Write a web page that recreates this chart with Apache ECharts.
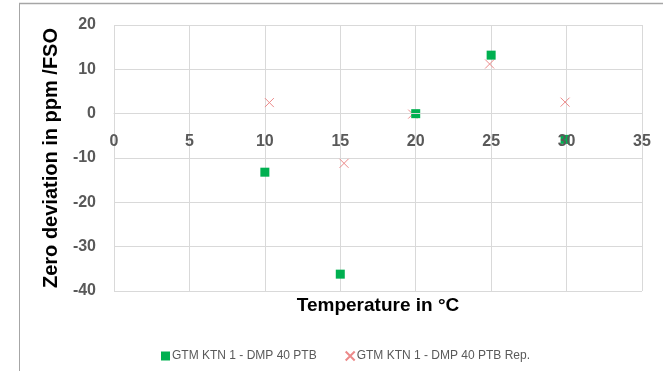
<!DOCTYPE html>
<html>
<head>
<meta charset="utf-8">
<script src="https://cdn.jsdelivr.net/npm/echarts@6/dist/echarts.min.js"></script>
<style>html,body{margin:0;padding:0;background:#fff}#c{width:663px;height:371px}</style>
</head>
<body>
<div id="c"></div>
<script>
// Data
var seriesNames = ['GTM KTN 1 - DMP 40 PTB', 'GTM KTN 1 - DMP 40 PTB Rep.'];
var tempA = [10, 15, 20, 25, 29.9];
var devA = [-13.2, -36.2, 0, 13.2, -5.8];
var tempB = [10.3, 15.25, 19.8, 24.9, 29.9];
var devB = [2.5, -11.2, -0.1, 11.2, 2.6];
var xTitle = 'Temperature in °C';
var yTitle = 'Zero deviation in ppm /FSO';

function pairs(xs, ys) { return xs.map(function (x, i) { return [x, ys[i]]; }); }

var xSym = 'path://M0,0L10,10M10,0L0,10';
var font = 'Liberation Sans, Arial, sans-serif';

// grid geometry
var gTop = 25, gBottom = 80, H = 371;
var plotH = H - gTop - gBottom;
var yMin = -40, yMax = 20;
var zeroOffset = -plotH * (0 - yMin) / (yMax - yMin); // move x axis up to y = 0

var chart = echarts.init(document.getElementById('c'), null, {renderer: 'canvas'});
chart.setOption({
  animation: false,
  backgroundColor: '#fff',
  grid: {left: 114, right: 21, top: gTop, bottom: gBottom, containLabel: false, outerBoundsMode: 'none'},
  graphic: [
    {type: 'line', shape: {x1: 19, y1: 3.5, x2: 663, y2: 3.5}, style: {stroke: '#a6a6a6', lineWidth: 1.5}},
    {type: 'line', shape: {x1: 19.5, y1: 3, x2: 19.5, y2: 371}, style: {stroke: '#a6a6a6', lineWidth: 1}}
  ],
  xAxis: [{
    type: 'value', min: 0, max: 35, interval: 5, position: 'bottom', z: 10,
    offset: zeroOffset,
    axisLine: {show: true, onZero: false, lineStyle: {color: '#d9d9d9', width: 1}},
    axisTick: {show: false},
    splitLine: {show: false},
    axisLabel: {color: '#595959', fontSize: 16, fontWeight: 'bold', fontFamily: font, margin: 20},
    name: xTitle, nameLocation: 'middle', nameGap: 183,
    nameTextStyle: {color: '#000', fontSize: 19, fontWeight: 'bold', fontFamily: font}
  }, {
    type: 'value', min: 0, max: 35, interval: 5, position: 'top',
    axisLine: {show: false, onZero: false},
    axisTick: {show: false},
    axisLabel: {show: false},
    splitLine: {show: true, lineStyle: {color: '#d9d9d9', width: 1}}
  }],
  yAxis: {
    type: 'value', min: yMin, max: yMax, interval: 10,
    axisLine: {show: false},
    axisTick: {show: false},
    splitLine: {show: true, lineStyle: {color: '#d9d9d9', width: 1}},
    axisLabel: {color: '#595959', fontSize: 16, fontWeight: 'bold', fontFamily: font, margin: 18},
    name: yTitle, nameLocation: 'middle', nameGap: 47, nameRotate: 90,
    nameTextStyle: {color: '#000', fontSize: 20, fontWeight: 'bold', fontFamily: font}
  },
  legend: {
    left: 156, top: 345, itemWidth: 9, itemHeight: 9, itemGap: 28,
    textStyle: {color: '#595959', fontSize: 12, fontFamily: font, padding: [0, 0, 0, -3]},
    data: [
      {name: seriesNames[0], icon: 'rect'},
      {name: seriesNames[1], icon: xSym}
    ]
  },
  series: [
    {
      name: seriesNames[0], type: 'scatter', data: pairs(tempA, devA),
      symbol: 'rect', symbolSize: 9, z: 3,
      itemStyle: {color: '#00b050', opacity: 1}
    },
    {
      name: seriesNames[1], type: 'scatter', data: pairs(tempB, devB),
      symbol: xSym, symbolSize: 9, z: 2,
      itemStyle: {color: 'rgba(0,0,0,0)', borderColor: '#ec8a8a', borderWidth: 1, opacity: 1}
    }
  ]
});
</script>
</body>
</html>
